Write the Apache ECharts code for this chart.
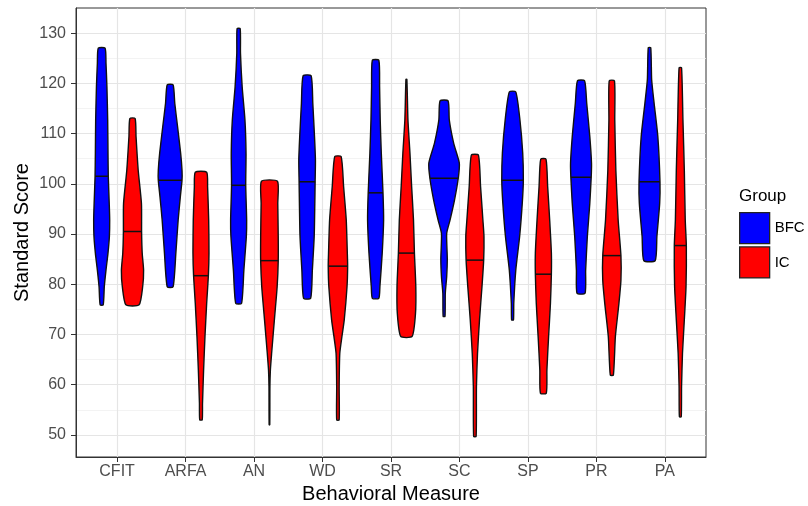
<!DOCTYPE html>
<html>
<head>
<meta charset="utf-8">
<script src="https://cdn.jsdelivr.net/npm/echarts@6/dist/echarts.min.js"></script>
<style>
html,body{margin:0;padding:0;background:#fff}
#chart{width:808px;height:506px}
</style>
</head>
<body>
<div id="chart"></div>
<script>
const measures = ['CFIT', 'ARFA', 'AN', 'WD', 'SR', 'SC', 'SP', 'PR', 'PA']
const groups = ['BFC', 'IC']
const yTicks = [50, 60, 70, 80, 90, 100, 110, 120, 130]
const yMinorTicks = [55, 65, 75, 85, 95, 105, 115, 125]

// violin outline: [standard score, relative density], top to bottom
const bfcProfiles = [
  [[127.0,0.22],[124.0,0.28],[119.3,0.34],[112.7,0.39],[106.1,0.41],[101.4,0.43],[96.1,0.49],[92.8,0.52],[89.5,0.50],[86.2,0.41],[82.8,0.28],[79.5,0.17],[75.9,0.10]],
  [[119.7,0.19],[116.0,0.30],[111.4,0.48],[106.1,0.68],[102.7,0.77],[100.7,0.77],[97.4,0.66],[92.8,0.52],[86.2,0.37],[79.5,0.19]],
  [[130.9,0.10],[126.0,0.12],[119.3,0.23],[112.7,0.41],[106.1,0.48],[99.7,0.46],[92.8,0.52],[89.5,0.50],[82.8,0.34],[76.2,0.19]],
  [[121.5,0.26],[116.0,0.37],[109.4,0.48],[104.7,0.54],[100.4,0.52],[96.1,0.50],[89.5,0.46],[82.8,0.34],[77.2,0.23]],
  [[124.6,0.21],[119.3,0.26],[112.7,0.30],[106.1,0.37],[98.2,0.48],[92.8,0.52],[86.2,0.43],[79.5,0.28],[77.2,0.21]],
  [[116.5,0.26],[112.7,0.34],[108.0,0.63],[104.1,0.99],[101.1,0.92],[96.8,0.68],[92.8,0.39],[90.1,0.17],[85.0,0.21],[81.5,0.17],[78.2,0.08],[73.6,0.06]],
  [[118.3,0.21],[112.7,0.48],[106.1,0.66],[100.7,0.70],[96.1,0.63],[89.5,0.46],[82.8,0.21],[76.2,0.08],[72.9,0.06]],
  [[120.5,0.23],[116.0,0.37],[109.4,0.57],[104.1,0.68],[101.3,0.66],[96.1,0.57],[89.5,0.41],[82.8,0.30],[78.2,0.26]],
  [[127.1,0.08],[120.7,0.14],[116.0,0.30],[109.4,0.54],[100.4,0.68],[96.1,0.66],[89.5,0.48],[84.7,0.37]]
]
const icProfiles = [
  [[113.0,0.17],[109.4,0.23],[102.7,0.37],[96.1,0.58],[90.5,0.59],[86.2,0.63],[82.8,0.72],[79.5,0.66],[75.9,0.43]],
  [[102.3,0.37],[99.4,0.43],[92.8,0.50],[86.2,0.52],[81.7,0.48],[76.2,0.37],[69.6,0.26],[62.9,0.17],[56.3,0.10],[53.0,0.08]],
  [[100.5,0.52],[96.1,0.54],[89.5,0.57],[84.7,0.57],[79.5,0.50],[72.9,0.32],[66.2,0.14],[62.9,0.06],[59.6,0.03],[52.0,0.02]],
  [[105.4,0.21],[99.4,0.37],[92.8,0.54],[86.2,0.61],[83.6,0.63],[79.5,0.59],[72.9,0.41],[69.6,0.26],[66.2,0.12],[59.6,0.08],[53.0,0.08]],
  [[120.8,0.03],[112.7,0.10],[106.1,0.23],[99.4,0.34],[92.8,0.46],[86.2,0.52],[79.5,0.61],[74.2,0.59],[69.6,0.37]],
  [[105.7,0.23],[99.4,0.37],[92.8,0.52],[89.5,0.59],[84.8,0.57],[79.5,0.46],[72.9,0.30],[66.2,0.17],[59.6,0.10],[49.7,0.08]],
  [[104.9,0.17],[99.4,0.28],[92.8,0.41],[86.2,0.52],[82.0,0.52],[76.2,0.46],[69.6,0.34],[62.9,0.23],[58.3,0.19]],
  [[120.5,0.17],[112.7,0.19],[102.7,0.26],[92.8,0.41],[85.7,0.59],[80.8,0.59],[76.2,0.46],[69.6,0.23],[61.9,0.10]],
  [[123.1,0.08],[112.7,0.17],[102.7,0.26],[92.8,0.32],[87.7,0.39],[79.5,0.37],[72.9,0.26],[66.2,0.14],[59.6,0.08],[53.6,0.06]]
]
const bfcMedians = [101.5, 100.7, 99.7, 100.4, 98.2, 101.1, 100.7, 101.3, 100.4]
const icMedians = [90.5, 81.7, 84.7, 83.6, 86.2, 84.8, 82.0, 85.7, 87.7]

const FONT = '"Liberation Sans", Arial, sans-serif'
const HALF = 0.225 // half of dodge width per unit density

function densAt(prof, v) {
  for (let k = 0; k < prof.length - 1; k++) {
    const a = prof[k], b = prof[k + 1]
    if (v <= a[0] && v >= b[0]) {
      return a[1] + (b[1] - a[1]) * (a[0] - v) / (a[0] - b[0])
    }
  }
  return 0
}

function violin(profiles, medians, offset, color) {
  return function (params, api) {
    const i = api.value(0)
    const prof = profiles[i]
    const cx = i + offset
    const right = prof.map(p => api.coord([cx + p[1] * HALF, p[0]]))
    const left = prof.slice().reverse().map(p => api.coord([cx - p[1] * HALF, p[0]]))
    const m = medians[i]
    const d = densAt(prof, m)
    const p1 = api.coord([cx - d * HALF, m])
    const p2 = api.coord([cx + d * HALF, m])
    return {
      type: 'group',
      children: [
        { type: 'polygon', shape: { points: right.concat(left), smooth: 0.2 },
          style: { fill: color, stroke: '#111', lineWidth: 1.4 } },
        { type: 'line', shape: { x1: p1[0], y1: p1[1], x2: p2[0], y2: p2[1] },
          style: { stroke: '#111', lineWidth: 1.5 } }
      ]
    }
  }
}

const cats = measures.map((m, i) => [i])
const colors = ['#0000ff', '#ff0000']

const myChart = echarts.init(document.getElementById('chart'))
const option = {
  animation: false,
  backgroundColor: '#fff',
  textStyle: { fontFamily: FONT },
  title: {
    text: 'Group', left: 739, top: 188, padding: 0,
    textStyle: { fontSize: 17, fontWeight: 'normal', color: '#000', fontFamily: FONT }
  },
  legend: {
    data: groups,
    orient: 'vertical',
    left: 739, top: 212, padding: 0,
    icon: 'rect',
    itemWidth: 30, itemHeight: 31, itemGap: 2,
    itemStyle: { borderColor: '#222', borderWidth: 1.3 },
    textStyle: { fontSize: 15, color: '#000', fontFamily: FONT },
    selectedMode: false
  },
  grid: {
    left: 76, right: 102, top: 8, bottom: 49,
    outerBoundsMode: 'none',
    show: true, borderColor: '#333', borderWidth: 1, backgroundColor: 'transparent'
  },
  xAxis: {
    type: 'value', min: -0.6, max: 8.6,
    name: 'Behavioral Measure', nameLocation: 'middle', nameGap: 27,
    nameTextStyle: { fontSize: 20, color: '#000', fontFamily: FONT },
    axisLine: { show: true, onZero: false, lineStyle: { color: '#333' } },
    axisTick: { show: true, length: 5, customValues: measures.map((m, i) => i), lineStyle: { color: '#333' } },
    axisLabel: { customValues: measures.map((m, i) => i), formatter: v => measures[Math.round(v)],
      fontSize: 16, color: '#4d4d4d', margin: 7, fontFamily: FONT },
    splitLine: { show: true, lineStyle: { color: '#e5e5e5', width: 1.2 } }
  },
  yAxis: [{
    type: 'value', min: 45.6, max: 135,
    name: 'Standard Score', nameLocation: 'middle', nameGap: 44, nameMoveOverlap: false,
    nameTextStyle: { fontSize: 20, color: '#000', fontFamily: FONT },
    axisLine: { show: true, onZero: false, lineStyle: { color: '#333' } },
    axisTick: { show: true, length: 5, customValues: yTicks, lineStyle: { color: '#333' } },
    axisLabel: { customValues: yTicks, fontSize: 16, color: '#4d4d4d', margin: 10, fontFamily: FONT },
    splitLine: { show: true, lineStyle: { color: '#e5e5e5', width: 1.2 } }
  }, {
    type: 'value', min: 45.6, max: 135, position: 'left',
    axisLine: { show: false, onZero: false },
    axisTick: { show: false, customValues: yMinorTicks },
    axisLabel: { show: false, customValues: yMinorTicks },
    splitLine: { show: true, lineStyle: { color: '#f0f0f0', width: 0.8 } }
  }],
  series: [
    {
      name: 'BFC', type: 'custom', xAxisIndex: 0, yAxisIndex: 0,
      itemStyle: { color: colors[0], borderColor: '#222', borderWidth: 1.3 },
      renderItem: violin(bfcProfiles, bfcMedians, -0.225, colors[0]),
      encode: { x: 0 },
      data: cats, clip: false
    },
    {
      name: 'IC', type: 'custom', xAxisIndex: 0, yAxisIndex: 0,
      itemStyle: { color: colors[1], borderColor: '#222', borderWidth: 1.3 },
      renderItem: violin(icProfiles, icMedians, 0.225, colors[1]),
      encode: { x: 0 },
      data: cats, clip: false
    }
  ]
}
myChart.setOption(option)
</script>
</body>
</html>
